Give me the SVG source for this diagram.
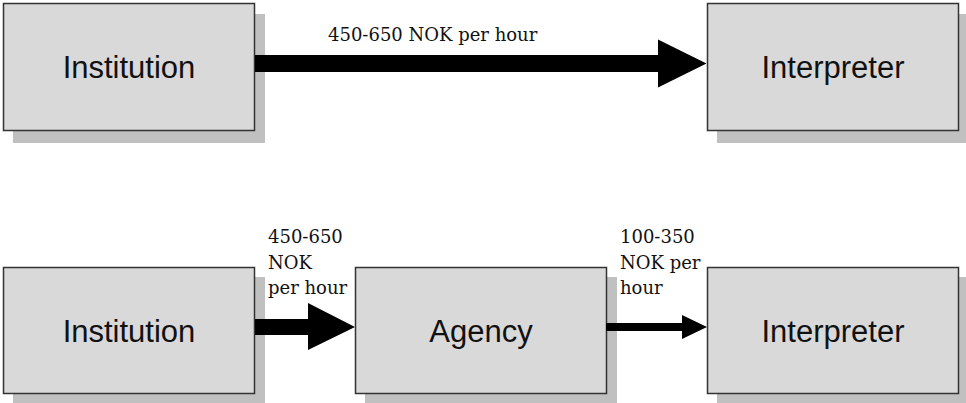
<svg xmlns="http://www.w3.org/2000/svg" width="966" height="403" viewBox="0 0 966 403">
<style>
.shadow{fill:#c0c0c0}
.box{fill:#d9d9d9;stroke:#333333;stroke-width:1.5}
.nt{font-family:"Liberation Sans",Arial,sans-serif;font-size:31px;fill:#111111;text-anchor:middle}
.lb{font-family:"DejaVu Serif","Liberation Serif",serif;font-size:18px;fill:#111111}
.arr{fill:#000000}
</style>
<rect width="966" height="403" fill="#ffffff"/>
<g id="inst1">
<rect class="shadow" x="13" y="14" width="252" height="129"/>
<rect class="box" x="3.5" y="3.5" width="251" height="127"/>
<text class="nt" x="129" y="78">Institution</text>
</g>
<g id="interp1">
<rect class="shadow" x="717" y="14" width="252" height="129"/>
<rect class="box" x="707.5" y="3.5" width="251" height="127"/>
<text class="nt" x="833" y="78">Interpreter</text>
</g>
<g id="inst2">
<rect class="shadow" x="13" y="277" width="252" height="126"/>
<rect class="box" x="3.5" y="267.5" width="251" height="126"/>
<text class="nt" x="129" y="342">Institution</text>
</g>
<g id="agency">
<rect class="shadow" x="365" y="277" width="252" height="126"/>
<rect class="box" x="355.5" y="267.5" width="251" height="126"/>
<text class="nt" x="481" y="342">Agency</text>
</g>
<g id="interp2">
<rect class="shadow" x="717" y="277" width="252" height="126"/>
<rect class="box" x="707.5" y="267.5" width="251" height="126"/>
<text class="nt" x="833" y="342">Interpreter</text>
</g>
<g id="connectors">
<polygon class="arr" points="255,55 658,55 658,39.5 706.5,63.5 658,87.5 658,72 255,72"/>
<text class="lb" x="328" y="41">450-650 NOK per hour</text>
<polygon class="arr" points="255,319 308,319 308,303 355,327 308,350 308,335 255,335"/>
<text class="lb" x="268" y="243">450-650</text>
<text class="lb" x="268" y="268.5">NOK</text>
<text class="lb" x="268" y="294">per hour</text>
<polygon class="arr" points="606,323 682,323 682,315 707,327 682,339 682,331 606,331"/>
<text class="lb" x="620" y="243">100-350</text>
<text class="lb" x="620" y="268.5">NOK per</text>
<text class="lb" x="620" y="294">hour</text>
</g>
</svg>
